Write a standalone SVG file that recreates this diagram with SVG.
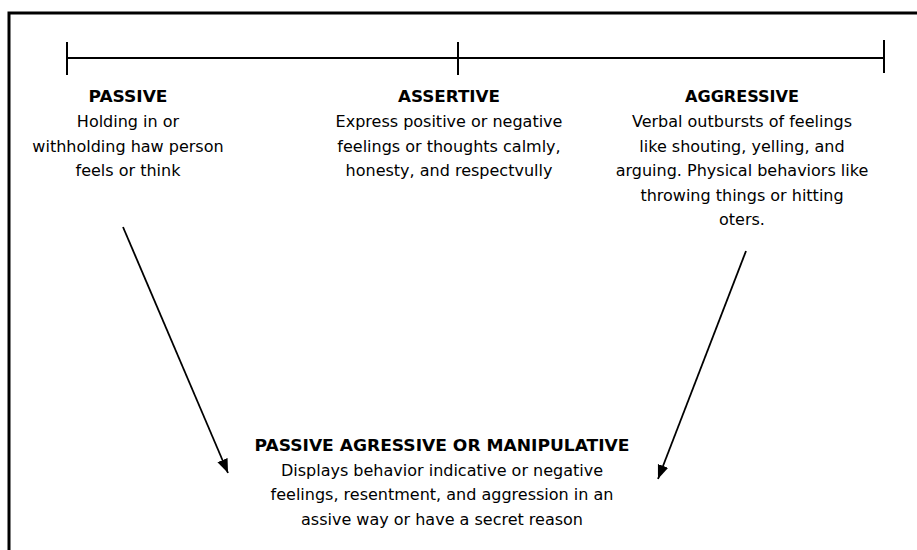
<svg xmlns="http://www.w3.org/2000/svg" width="917" height="550" viewBox="0 0 917 550">
<style>
.t{font-family:"DejaVu Sans","Liberation Sans",sans-serif;font-size:16px;fill:#000;text-anchor:middle}
.h{font-family:"DejaVu Sans","Liberation Sans",sans-serif;font-size:16px;font-weight:bold;fill:#000;text-anchor:middle}
.ln{stroke:#000;fill:none}
</style>
<defs>
<marker id="ah" markerUnits="userSpaceOnUse" markerWidth="15" markerHeight="12" refX="14" refY="5.5" orient="auto">
<path d="M0,0 L14,5.5 L0,11 z" fill="#000"/>
</marker>
</defs>
<rect x="0" y="0" width="917" height="550" fill="#fff"/>
<rect id="frame" x="9" y="13" width="1000" height="1000" class="ln" stroke-width="3"/>
<g id="scale" class="ln" stroke-width="2">
<line x1="67" y1="58" x2="884" y2="58"/>
<line x1="67" y1="42" x2="67" y2="75"/>
<line x1="458" y1="42" x2="458" y2="75"/>
<line x1="884" y1="40" x2="884" y2="73"/>
</g>
<g id="passive">
<text class="h" x="128" y="102" textLength="79" lengthAdjust="spacingAndGlyphs">PASSIVE</text>
<text class="t" x="128" y="127">Holding in or</text>
<text class="t" x="128" y="151.5">withholding haw person</text>
<text class="t" x="128" y="176">feels or think</text>
</g>
<g id="assertive">
<text class="h" x="449" y="102" textLength="102" lengthAdjust="spacingAndGlyphs">ASSERTIVE</text>
<text class="t" x="449" y="127">Express positive or negative</text>
<text class="t" x="449" y="151.5">feelings or thoughts calmly,</text>
<text class="t" x="449" y="176">honesty, and respectvully</text>
</g>
<g id="aggressive">
<text class="h" x="742" y="102" textLength="114" lengthAdjust="spacingAndGlyphs">AGGRESSIVE</text>
<text class="t" x="742" y="127">Verbal outbursts of feelings</text>
<text class="t" x="742" y="151.5">like shouting, yelling, and</text>
<text class="t" x="742" y="176">arguing. Physical behaviors like</text>
<text class="t" x="742" y="200.5">throwing things or hitting</text>
<text class="t" x="742" y="225">oters.</text>
</g>
<g id="passive-aggressive">
<text class="h" x="442" y="451" textLength="375" lengthAdjust="spacingAndGlyphs">PASSIVE AGRESSIVE OR MANIPULATIVE</text>
<text class="t" x="442" y="475.5">Displays behavior indicative or negative</text>
<text class="t" x="442" y="500">feelings, resentment, and aggression in an</text>
<text class="t" x="442" y="524.5">assive way or have a secret reason</text>
</g>
<g id="connectors" class="ln" stroke-width="1.8">
<line x1="123" y1="227" x2="228" y2="473" marker-end="url(#ah)"/>
<line x1="746" y1="251" x2="658" y2="479" marker-end="url(#ah)"/>
</g>
</svg>
